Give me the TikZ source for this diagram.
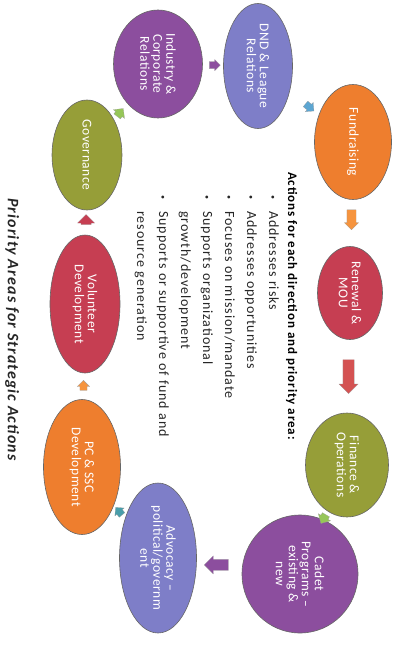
\documentclass[tikz,border=0pt]{standalone}
\usepackage{fontspec}
\setmainfont{Carlito}
\usetikzlibrary{shapes.geometric,shapes.arrows,calc}
\definecolor{areaPurple}{RGB}{140,78,158}
\definecolor{areaLavender}{RGB}{126,126,200}
\definecolor{areaOrange}{RGB}{238,126,46}
\definecolor{areaOlive}{RGB}{150,158,56}
\definecolor{areaCrimson}{RGB}{198,62,82}
\colorlet{flowPurple}{areaPurple}
\definecolor{flowBlue}{RGB}{92,166,210}
\definecolor{flowOrange}{RGB}{246,148,62}
\definecolor{flowRed}{RGB}{212,82,82}
\definecolor{flowGreen}{RGB}{150,198,88}
\definecolor{flowTeal}{RGB}{72,158,170}
\colorlet{flowCrimson}{areaCrimson}
\newcommand\dotmark{\makebox[16pt][l]{\hspace{0.5pt}\raisebox{1.5pt}{\fontsize{8}{8}\selectfont\textbullet}}}

\begin{document}
\begin{tikzpicture}[
  x=1pt, y=1pt,
  area/.style={
    ellipse,
    draw=black!60,
    line width=0.6pt,
    rotate=-90,
    inner sep=0pt,
    align=center,
    text=white,
    font={\fontsize{13.5}{13}\selectfont\addfontfeatures{LetterSpace=4}},
  },
  flow/.style n args={3}{
    single arrow,
    draw=black!40,
    line width=0.2pt,
    inner xsep=0pt,
    inner ysep=#3/2,
    minimum height=#1,
    single arrow head extend={(#2-#3)/2},
  },
  heading/.style={
    rotate=-90,
    inner sep=0pt,
    font={\fontsize{13}{15}\selectfont\bfseries\addfontfeatures{LetterSpace=7}},
  },
  points/.style={
    rotate=-90,
    inner sep=0pt,
    align=left,
    text=black!85,
    font={\fontsize{14}{22}\selectfont\addfontfeatures{LetterSpace=7}},
  },
  caption/.style={
    rotate=-90,
    inner sep=0pt,
    text=black!85,
    font={\fontsize{16}{18}\selectfont\bfseries\itshape\addfontfeatures{LetterSpace=7}},
  },
]
\useasboundingbox (0,0) rectangle (409,-645);

% priority areas, clockwise
\node[area, fill=areaPurple, minimum width=108, minimum height=89] (ind) at (158,-64) {Industry \&\\Corporate\\Relations};
\node[area, fill=areaLavender, minimum width=125, minimum height=69] (dnd) at (258,-66) {DND \& League\\Relations};
\node[area, fill=areaOrange, minimum width=115, minimum height=77] (fund) at (353,-142) {Fundraising};
\node[area, fill=areaCrimson, minimum width=93, minimum height=65] (ren) at (350,-293) {Renewal \&\\MOU};
\node[area, fill=areaOlive, minimum width=104, minimum height=83] (fin) at (347,-465) {Finance \&\\Operations};
\node[area, fill=areaPurple, minimum width=118, minimum height=116] (cadet) at (300,-574) {Cadet\\Programs --\\existing \&\\new};
\node[area, fill=areaLavender, minimum width=150, minimum height=77] (adv) at (158,-558) {Advocacy --\\political/governm\\ent};
\node[area, fill=areaOrange, minimum width=135, minimum height=77] (pc) at (82,-467) {PC \& SSC\\Development};
\node[area, fill=areaCrimson, minimum width=138, minimum height=70] (vol) at (85,-304) {Volunteer\\Development};
\node[area, fill=areaOlive, minimum width=110, minimum height=70] (gov) at (87,-155) {Governance};

% block arrows between areas
\foreach \a/\b/\f/\ang/\len/\hd/\sh/\col in {
    ind/dnd/0.55/0/11/11/7/flowPurple,
    dnd/fund/0.53/-40/11/12/7/flowBlue,
    fund/ren/0.5/-90/20/14/9/flowOrange,
    ren/fin/0.47/-90/34/19/11/flowRed,
    fin/cadet/0.48/-120/10/14/8/flowGreen,
    cadet/adv/0.57/180/24/18/11/flowPurple,
    adv/pc/0.5/130/10/12/7/flowTeal,
    pc/vol/0.49/90/10/12/7/flowOrange,
    vol/gov/0.55/90/10/17/10/flowCrimson,
    gov/ind/0.45/52/10/14/8/flowGreen}
  \node[flow={\len}{\hd}{\sh}, fill=\col, rotate=\ang] (to-\b) at ($(\a)!\f!(\b)$) {};

% texts
\node[heading, anchor=base west] (head) at (288,-172) {Actions for each direction and priority area:};
\node[points, anchor=north west] (list) at (279,-195) {%
  \dotmark Addresses risks\\
  \dotmark Addresses opportunities\\
  \dotmark Focuses on mission/mandate\\
  \dotmark Supports organizational\\
  \makebox[16pt][l]{}growth/development\\
  \dotmark Supports or supportive of fund and\\
  \makebox[16pt][l]{}resource generation};
\node[caption, anchor=base west] (title) at (8,-198) {Priority Areas for Strategic Actions};
\end{tikzpicture}
\end{document}
